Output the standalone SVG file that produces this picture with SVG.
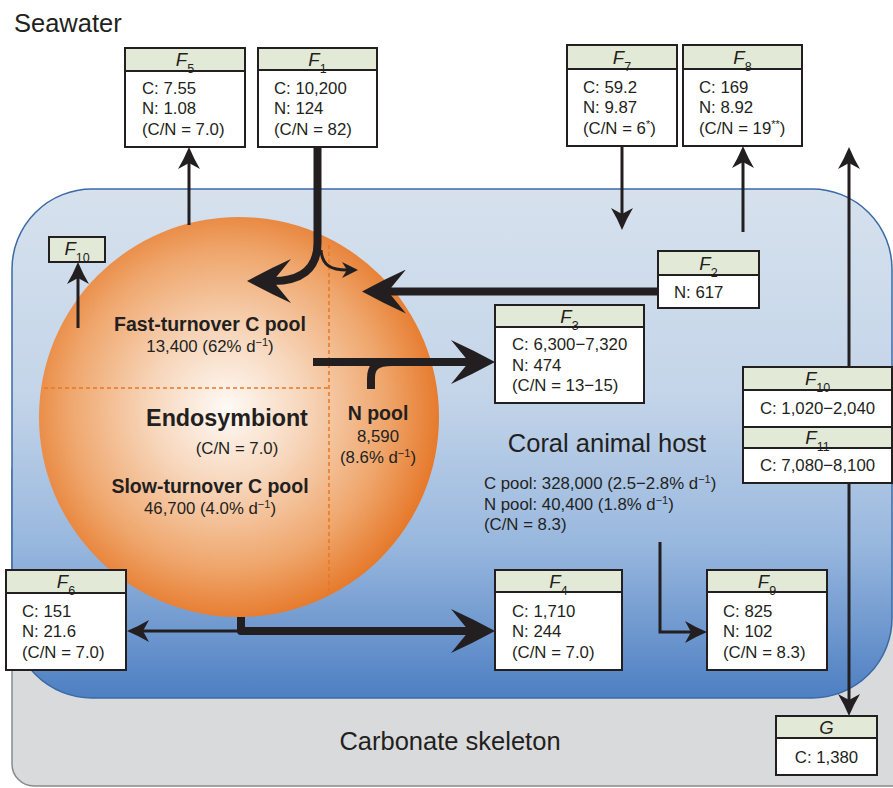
<svg xmlns="http://www.w3.org/2000/svg" width="893" height="788" viewBox="0 0 893 788">
<defs>
<linearGradient id="blueG" x1="0" y1="0" x2="0" y2="1">
<stop offset="0" stop-color="#d6e1ed"/>
<stop offset="0.4" stop-color="#c4d5e9"/>
<stop offset="0.7" stop-color="#98b7de"/>
<stop offset="1" stop-color="#4d7fc2"/>
</linearGradient>
<radialGradient id="sphG" cx="0.47" cy="0.48" r="0.55">
<stop offset="0" stop-color="#fefaf6"/>
<stop offset="0.35" stop-color="#f7d6bb"/>
<stop offset="0.72" stop-color="#efa66c"/>
<stop offset="1" stop-color="#e57424"/>
</radialGradient>
<marker id="aThin" viewBox="0 0 22 22" markerWidth="22" markerHeight="22" refX="6" refY="11" orient="auto" markerUnits="userSpaceOnUse">
<path d="M22,11 Q10,6 0,0 L6,11 L0,22 Q10,16 22,11 Z" fill="#231f20"/>
</marker>
<marker id="aSmall" viewBox="0 0 16 16" markerWidth="16" markerHeight="16" refX="5" refY="8" orient="auto" markerUnits="userSpaceOnUse">
<path d="M16,8 Q8,4 0,0 L5,8 L0,16 Q8,12 16,8 Z" fill="#231f20"/>
</marker>
<marker id="aThick" viewBox="0 0 44 44" markerWidth="44" markerHeight="44" refX="18" refY="22" orient="auto" markerUnits="userSpaceOnUse">
<path d="M44,22 Q22,10 0,0 L18,22 L0,44 Q22,34 44,22 Z" fill="#231f20"/>
</marker>
</defs>
<style>
text{font-family:"Liberation Sans",Arial,sans-serif;fill:#231f20}
.t{font-size:16.8px}
.big{font-size:25.5px}
.hd{font-size:18.5px;font-style:italic}
.sb{font-size:12.5px;font-style:normal}
.sp{font-size:11px}
.box{fill:#fff;stroke:#231f20;stroke-width:2}
.hdr{fill:#e2ead7;stroke:#231f20;stroke-width:2}
.ln{fill:none;stroke:#231f20;stroke-width:3}
.thk{fill:none;stroke:#231f20;stroke-width:8}
.dash{fill:none;stroke:#e87722;stroke-width:1.5;stroke-dasharray:4 3}
.b{font-weight:bold}
</style>
<rect width="893" height="788" fill="#fff"/>
<text x="14" y="32" class="big">Seawater</text>
<g id="skeleton">
<rect x="12" y="450" width="920" height="336" rx="22" fill="#d9dadc" stroke="#8a8a8a" stroke-width="1.5"/>
<text x="450" y="750" class="big" text-anchor="middle">Carbonate skeleton</text>
</g>
<g id="host">
<rect x="12" y="189" width="880" height="509" rx="80" fill="url(#blueG)" stroke="#3a69a6" stroke-width="1.5"/>
<text x="607" y="452" class="big" text-anchor="middle">Coral animal host</text>
<text x="484" y="489" class="t">C pool: 328,000 (2.5−2.8% d<tspan class="sp" baseline-shift="super">−1</tspan>)</text>
<text x="484" y="510" class="t">N pool: 40,400 (1.8% d<tspan class="sp" baseline-shift="super">−1</tspan>)</text>
<text x="484" y="530" class="t">(C/N = 8.3)</text>
</g>
<g id="endosymbiont">
<circle cx="239" cy="417" r="200" fill="url(#sphG)"/>
<path class="dash" d="M329,245 V595"/>
<path class="dash" d="M44,388 H329"/>
<text x="210" y="331" class="b" font-size="19.5" text-anchor="middle">Fast-turnover C pool</text>
<text x="210" y="352" class="t" text-anchor="middle">13,400 (62% d<tspan class="sp" baseline-shift="super">−1</tspan>)</text>
<text x="227" y="426" class="b" font-size="23.3" text-anchor="middle">Endosymbiont</text>
<text x="237" y="454" class="t" text-anchor="middle">(C/N = 7.0)</text>
<text x="210" y="493" class="b" font-size="19.5" text-anchor="middle">Slow-turnover C pool</text>
<text x="210" y="514" class="t" text-anchor="middle">46,700 (4.0% d<tspan class="sp" baseline-shift="super">−1</tspan>)</text>
<text x="378" y="420" class="b" font-size="19.5" text-anchor="middle">N pool</text>
<text x="378" y="442" class="t" text-anchor="middle">8,590</text>
<text x="378" y="463" class="t" text-anchor="middle">(8.6% d<tspan class="sp" baseline-shift="super">−1</tspan>)</text>
</g>
<g id="connectors">
<path class="thk" d="M317.5,147 L317.5,243 C317.5,270 300,281 273,281" stroke-width="9" marker-end="url(#aThick)"/>
<path class="ln" d="M321,250 C322,266 332,270 347,270" marker-end="url(#aSmall)"/>
<path class="thk" d="M658,291.5 L388,291.5" marker-end="url(#aThick)"/>
<path class="thk" d="M313,362 L469,362" marker-end="url(#aThick)"/>
<path class="thk" d="M371,389 L371,378 C371,367 376,362 392,362"/>
<path class="thk" d="M241,617 L241,631 L469,631" stroke-width="7" stroke-linejoin="round" marker-end="url(#aThick)"/>
<path class="ln" d="M241,631 L143,631" marker-end="url(#aThin)"/>
<path class="ln" d="M189,225 L189,163" marker-end="url(#aThin)"/>
<path class="ln" d="M78,328 L78,278" marker-end="url(#aThin)"/>
<path class="ln" d="M622,146 L622,214" marker-end="url(#aThin)"/>
<path class="ln" d="M743,232 L743,162" marker-end="url(#aThin)"/>
<path class="ln" d="M849,367 L849,163" marker-end="url(#aThin)"/>
<path class="ln" d="M849,483 L849,700" marker-end="url(#aThin)"/>
<path class="ln" d="M660,542 L660,632 L691,632" marker-end="url(#aThin)"/>
</g>
<g id="F5">
<rect class="box" x="125" y="48" width="120" height="99"/>
<rect class="hdr" x="125" y="48" width="120" height="23"/>
<text x="185" y="66" class="hd" text-anchor="middle">F<tspan class="sb" baseline-shift="sub">5</tspan></text>
<text x="142" y="94" class="t">C: 7.55</text>
<text x="142" y="114" class="t">N: 1.08</text>
<text x="142" y="135" class="t">(C/N = 7.0)</text>
</g>
<g id="F1">
<rect class="box" x="258" y="48" width="119" height="99"/>
<rect class="hdr" x="258" y="48" width="119" height="22"/>
<text x="317.5" y="66" class="hd" text-anchor="middle">F<tspan class="sb" baseline-shift="sub">1</tspan></text>
<text x="274" y="94" class="t">C: 10,200</text>
<text x="274" y="114" class="t">N: 124</text>
<text x="274" y="135" class="t">(C/N = 82)</text>
</g>
<g id="F7">
<rect class="box" x="567" y="45" width="110" height="101"/>
<rect class="hdr" x="567" y="45" width="110" height="24"/>
<text x="622" y="64" class="hd" text-anchor="middle">F<tspan class="sb" baseline-shift="sub">7</tspan></text>
<text x="583" y="93" class="t">C: 59.2</text>
<text x="583" y="113" class="t">N: 9.87</text>
<text x="583" y="134" class="t">(C/N = 6<tspan class="sp" baseline-shift="super">*</tspan>)</text>
</g>
<g id="F8">
<rect class="box" x="683" y="45" width="119" height="101"/>
<rect class="hdr" x="683" y="45" width="119" height="24"/>
<text x="742.5" y="64" class="hd" text-anchor="middle">F<tspan class="sb" baseline-shift="sub">8</tspan></text>
<text x="699" y="93" class="t">C: 169</text>
<text x="699" y="113" class="t">N: 8.92</text>
<text x="699" y="134" class="t">(C/N = 19<tspan class="sp" baseline-shift="super">**</tspan>)</text>
</g>
<g id="F10a">
<rect class="hdr" x="49" y="237" width="56" height="25"/>
<text x="77" y="255" class="hd" text-anchor="middle">F<tspan class="sb" baseline-shift="sub">10</tspan></text>
</g>
<g id="F2">
<rect class="box" x="658" y="251" width="101" height="57"/>
<rect class="hdr" x="658" y="251" width="101" height="24"/>
<text x="708.5" y="270" class="hd" text-anchor="middle">F<tspan class="sb" baseline-shift="sub">2</tspan></text>
<text x="674" y="298" class="t">N: 617</text>
</g>
<g id="F3">
<rect class="box" x="495" y="305" width="149" height="98"/>
<rect class="hdr" x="495" y="305" width="149" height="22"/>
<text x="569.5" y="323" class="hd" text-anchor="middle">F<tspan class="sb" baseline-shift="sub">3</tspan></text>
<text x="512" y="350" class="t">C: 6,300−7,320</text>
<text x="512" y="371" class="t">N: 474</text>
<text x="512" y="391" class="t">(C/N = 13−15)</text>
</g>
<g id="F10F11">
<rect class="box" x="743" y="367" width="149" height="116"/>
<rect class="hdr" x="743" y="367" width="149" height="23"/>
<rect class="hdr" x="743" y="427" width="149" height="21"/>
<text x="817.5" y="385" class="hd" text-anchor="middle">F<tspan class="sb" baseline-shift="sub">10</tspan></text>
<text x="817.5" y="414" class="t" text-anchor="middle">C: 1,020−2,040</text>
<text x="817.5" y="444" class="hd" text-anchor="middle">F<tspan class="sb" baseline-shift="sub">11</tspan></text>
<text x="817.5" y="471" class="t" text-anchor="middle">C: 7,080−8,100</text>
</g>
<g id="F6">
<rect class="box" x="6" y="570" width="120" height="100"/>
<rect class="hdr" x="6" y="570" width="120" height="23"/>
<text x="66" y="588" class="hd" text-anchor="middle">F<tspan class="sb" baseline-shift="sub">6</tspan></text>
<text x="22" y="617" class="t">C: 151</text>
<text x="22" y="637" class="t">N: 21.6</text>
<text x="22" y="658" class="t">(C/N = 7.0)</text>
</g>
<g id="F4">
<rect class="box" x="495" y="570" width="127" height="100"/>
<rect class="hdr" x="495" y="570" width="127" height="22"/>
<text x="558.5" y="588" class="hd" text-anchor="middle">F<tspan class="sb" baseline-shift="sub">4</tspan></text>
<text x="512" y="617" class="t">C: 1,710</text>
<text x="512" y="637" class="t">N: 244</text>
<text x="512" y="658" class="t">(C/N = 7.0)</text>
</g>
<g id="F9">
<rect class="box" x="707" y="570" width="120" height="100"/>
<rect class="hdr" x="707" y="570" width="120" height="22"/>
<text x="767" y="588" class="hd" text-anchor="middle">F<tspan class="sb" baseline-shift="sub">9</tspan></text>
<text x="723" y="617" class="t">C: 825</text>
<text x="723" y="637" class="t">N: 102</text>
<text x="723" y="658" class="t">(C/N = 8.3)</text>
</g>
<g id="G">
<rect class="box" x="776" y="716" width="101" height="59"/>
<rect class="hdr" x="776" y="716" width="101" height="22"/>
<text x="826.5" y="734" class="hd" text-anchor="middle">G</text>
<text x="826.5" y="763" class="t" text-anchor="middle">C: 1,380</text>
</g>
</svg>
